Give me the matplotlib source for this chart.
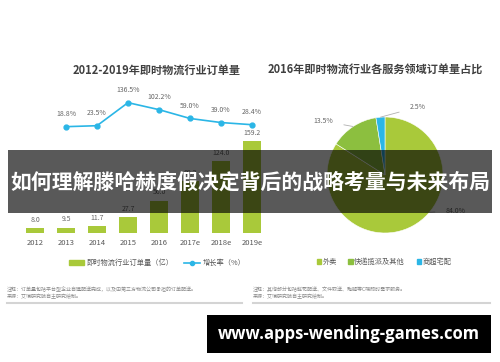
import math
import matplotlib
matplotlib.use("Agg")
import matplotlib.pyplot as plt
from matplotlib.patches import Rectangle, Patch
from matplotlib.lines import Line2D

plt.rcParams['font.family'] = ['Noto Sans CJK SC', 'DejaVu Sans']

W, H = 500, 362

# ---------------- data ----------------
years = ['2012', '2013', '2014', '2015', '2016', '2017e', '2018e', '2019e']
orders = [8.0, 9.5, 11.7, 27.7, 56.0, 89.2, 124.0, 159.2]
growth_years = ['2013', '2014', '2015', '2016', '2017e', '2018e', '2019e']
growth = [18.8, 23.5, 136.5, 102.2, 59.0, 39.0, 28.4]

pie_labels = ['外卖', '快递揽派及其他', '商超宅配']
pie_values = [84.0, 13.5, 2.5]

left_title = '2012-2019年即时物流行业订单量'
right_title = '2016年即时物流行业各服务领域订单量占比'
left_note = ['注释：订单量包括平台型企业自建配送完成，以及由第三方物流公司承担的订单配送。',
             '来源：艾瑞研究院自主研究绘制。']
right_note = ['注释：其他部分包括鲜花配送、文件取送、跑腿等C端即时需求服务。',
              '来源：艾瑞研究院自主研究绘制。']
overlay_text = '如何理解滕哈赫度假决定背后的战略考量与未来布局'
site_text = 'www.apps-wending-games.com'

GREEN = '#a9c93a'
GREEN2 = '#8cbf3f'
CYAN = '#2bb6e6'
GREY = '#666666'


def fx(x):
    return x / W


def fy(y):
    return 1 - y / H


fig = plt.figure(figsize=(5, 3.62), dpi=100)
fig.patch.set_facecolor('white')

##########################################
# left chart: bars + growth line
ax_l, ax_r, ax_t, ax_b = 16.4, 270.6, 90, 233
ax = fig.add_axes([fx(ax_l), fy(ax_b), (ax_r - ax_l) / W, (ax_b - ax_t) / H])
x = list(range(len(years)))
ax.bar(x, orders, width=0.6, color=GREEN, zorder=2)
ax.set_xlim(-0.6, len(years) - 0.4)
bar_scale = 92 / 159.2
ax.set_ylim(0, (ax_b - ax_t) / bar_scale)
for xi, v in zip(x, orders):
    ax.annotate('%.1f' % v, (xi, v), xytext=(0, 3), textcoords='offset points',
                ha='center', va='bottom', fontsize=5, color=GREY)
ax.set_xticks(x)
ax.set_xticklabels(years, fontsize=5.5, color='#595959')
ax.tick_params(length=0, pad=4)
ax.set_yticks([])
for s in ax.spines.values():
    s.set_visible(False)

ax2 = ax.twinx()
gx = [years.index(y) for y in growth_years]
ax2.plot(gx, growth, color=CYAN, lw=1.2, marker='o', markersize=3.5, zorder=3)
line_scale = 0.204
zero_px = ax_b - 130.5
ax2.set_ylim(-zero_px / line_scale, ((ax_b - ax_t) - zero_px) / line_scale)
for xi, v in zip(gx, growth):
    ax2.annotate('%.1f%%' % v, (xi, v), xytext=(0, 6), textcoords='offset points',
                 ha='center', va='bottom', fontsize=5, color=GREY)
ax2.set_yticks([])
for s in ax2.spines.values():
    s.set_visible(False)

fig.text(fx(157), fy(70), left_title, ha='center', va='center',
         fontsize=8, fontweight='bold', color='#404040')

handles = [Patch(color=GREEN, label='即时物流行业订单量（亿）'),
           Line2D([], [], color=CYAN, lw=1.2, marker='o', markersize=3, label='增长率（%）')]
fig.legend(handles=handles, loc='center', bbox_to_anchor=(fx(157), fy(263)), ncol=2,
           frameon=False, fontsize=5.2, handlelength=2.2, handleheight=0.6,
           columnspacing=1.5, handletextpad=0.3, labelcolor='#595959')

##########################################
# right chart: pie
cx, cy, r = 385, 175, 58
axp = fig.add_axes([fx(cx - r), fy(cy + r), 2 * r / W, 2 * r / H])
wedges, _ = axp.pie(pie_values, colors=[GREEN, GREEN2, CYAN], startangle=90,
                    counterclock=False, radius=1,
                    wedgeprops=dict(edgecolor='white', linewidth=0.4))
axp.set_xlim(-1, 1)
axp.set_ylim(-1, 1)
axp.axis('off')

label_px = [(456, 211), (323, 121), (418, 107)]
for w, v, (tx, ty) in zip(wedges, pie_values, label_px):
    ang = math.radians((w.theta1 + w.theta2) / 2)
    if v == max(pie_values):
        ang = math.radians(-40)
    ex, ey = math.cos(ang), math.sin(ang)
    axp.annotate('%.1f%%' % v, (ex, ey), xytext=((tx - cx) / r, (cy - ty) / r),
                 textcoords='data', ha='center', va='center', fontsize=5, color=GREY,
                 annotation_clip=False,
                 arrowprops=dict(arrowstyle='-', color='#b0b0b0', lw=0.6,
                                 shrinkA=6, shrinkB=0))

fig.text(fx(375), fy(70), right_title, ha='center', va='center',
         fontsize=8, fontweight='bold', color='#404040')

phandles = [Patch(color=c, label=l) for c, l in zip([GREEN, GREEN2, CYAN], pie_labels)]
fig.legend(handles=phandles, loc='center', bbox_to_anchor=(fx(384), fy(262)), ncol=3,
           frameon=False, fontsize=5.2, handlelength=0.6, handleheight=0.6,
           columnspacing=1.6, handletextpad=0.2, labelcolor='#595959')

##########################################
# footnotes and separators
for i, t in enumerate(left_note):
    fig.text(fx(7), fy(289 + i * 7.5), t, ha='left', va='center', fontsize=3.6, color='#888888')
for i, t in enumerate(right_note):
    fig.text(fx(253), fy(289 + i * 7.5), t, ha='left', va='center', fontsize=3.6, color='#888888')
fig.add_artist(Line2D([fx(7), fx(242)], [fy(303), fy(303)], color='#d4d4d4', lw=1.5))
fig.add_artist(Line2D([fx(253), fx(490)], [fy(303), fy(303)], color='#d4d4d4', lw=1.5))

##########################################
# overlays
fig.add_artist(Rectangle((fx(8), fy(213)), 484 / W, 63 / H, transform=fig.transFigure,
                         facecolor='black', alpha=0.65, edgecolor='none', zorder=10))
fig.text(fx(250), fy(182), overlay_text, ha='center', va='center', fontsize=15,
         fontweight='bold', color='white', zorder=11)

fig.add_artist(Rectangle((fx(207), fy(353)), 284 / W, 38 / H, transform=fig.transFigure,
                         facecolor='black', edgecolor='none', zorder=10))
fig.text(fx(349), fy(334), site_text, ha='center', va='center', fontsize=12,
         fontweight='bold', color='white', zorder=11, family='Open Sans')

fig.savefig('out.png', dpi=100)
